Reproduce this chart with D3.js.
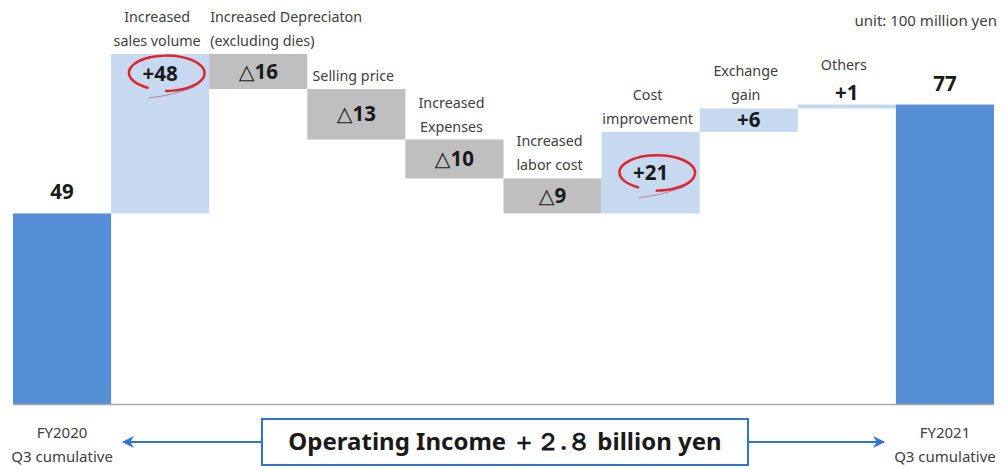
<!DOCTYPE html>
<html>
<head>
<meta charset="utf-8">
<script src="https://cdn.jsdelivr.net/npm/d3@7"></script>
<style>
  body { margin: 0; background: #fff; }
  svg { display: block; font-family: 'Noto Sans', 'DejaVu Sans', sans-serif; }
</style>
</head>
<body>
<div id="chart-area"></div>
<script>
// Data (unit: 100 million yen)
const categories = ['FY2020', 'Sales volume', 'Depreciation', 'Selling price', 'Expenses',
  'Labor cost', 'Cost improvement', 'Exchange gain', 'Others', 'FY2021'];
const categoryLines = [
  ['FY2020', 'Q3 cumulative'],
  ['Increased', 'sales volume'],
  ['Increased Depreciaton', '(excluding dies)'],
  ['Selling price'],
  ['Increased', 'Expenses'],
  ['Increased', 'labor cost'],
  ['Cost', 'improvement'],
  ['Exchange', 'gain'],
  ['Others'],
  ['FY2021', 'Q3 cumulative']
];
const changes = [49, 48, -16, -13, -10, -9, 21, 6, 1, 77];
const kinds = ['total', 'up', 'down', 'down', 'down', 'down', 'up', 'up', 'up', 'total'];
const valueLabels = ['49', '+48', '△16', '△13', '△10', '△9', '+21', '+6', '+1', '77'];
const circled = ['Sales volume', 'Cost improvement'];
const unitLabel = 'unit: 100 million yen';
const summaryLabel = 'Operating Income  ＋２.８ billion yen';

// SVG drawing area
let width = 1001, height = 469;
let baseY = 404;

let svg = d3.select('#chart-area')
  .append('svg')
  .attr('width', width)
  .attr('height', height);

// Scales (clamped: the tallest step is cut at the top like in the slide)
let x = d3.scaleBand().domain(categories).range([13, 994]).padding(0);
let y = d3.scaleLinear().domain([0, 90]).range([baseY, 54]).clamp(true);

// Running totals
let bars = [];
let running = 0;
changes.forEach((v, i) => {
  let start, end;
  if (kinds[i] === 'total') { start = 0; end = v; running = v; }
  else { start = running; end = running + v; running = end; }
  bars.push({
    key: categories[i], lines: categoryLines[i], kind: kinds[i], label: valueLabels[i],
    lo: Math.min(start, end), hi: Math.max(start, end)
  });
});

const colors = { total: '#558ED5', up: '#C6D9F1', down: '#BFBFBF' };

// Bars
svg.selectAll('.bar')
  .data(bars)
  .enter()
  .append('rect')
  .attr('class', 'bar')
  .attr('x', d => x(d.key))
  .attr('width', x.bandwidth())
  .attr('y', d => y(d.hi))
  .attr('height', d => y(d.lo) - y(d.hi))
  .attr('fill', d => colors[d.kind]);

// Baseline
svg.append('line')
  .attr('x1', x.range()[0]).attr('x2', x.range()[1])
  .attr('y1', baseY + 0.5).attr('y2', baseY + 0.5)
  .attr('stroke', '#A6A6A6').attr('stroke-width', 1.5);

// Value labels
svg.selectAll('.value')
  .data(bars)
  .enter()
  .append('text')
  .attr('class', 'value')
  .attr('x', d => x(d.key) + x.bandwidth() / 2)
  .attr('y', d => {
    let top = y(d.hi), bottom = y(d.lo), h = bottom - top;
    if (d.kind === 'total') return top - 14;
    if (h < 15) return top - 5;
    if (h > 120) return top + 27;
    return (top + bottom) / 2 + 7;
  })
  .attr('text-anchor', 'middle')
  .attr('font-size', 20.5)
  .attr('font-weight', 'bold')
  .attr('fill', '#1a1a1a')
  .text(d => d.label);

// Category labels above the steps
let steps = bars.filter(d => d.kind !== 'total');
steps.forEach(d => {
  let top = y(d.hi);
  let h = y(d.lo) - top;
  let lastBase = h < 15 ? top - 35 : top - 8;
  let g = svg.append('g').attr('class', 'cat-label');
  let n = d.lines.length;
  d.lines.forEach((line, j) => {
    g.append('text')
      .attr('y', lastBase - (n - 1 - j) * 24)
      .attr('font-size', 14.3)
      .attr('fill', '#404040')
      .text(line);
  });
  // centre on the step, or start at its left edge when too wide
  let maxW = d3.max(g.selectAll('text').nodes(), t => t.getComputedTextLength());
  if (maxW > x.bandwidth()) {
    g.selectAll('text').attr('x', x(d.key) + 1).attr('text-anchor', 'start');
  } else {
    g.selectAll('text').attr('x', x(d.key) + x.bandwidth() / 2 - 3).attr('text-anchor', 'middle');
  }
});

// Red hand-drawn circles
let ellipse = d3.line().curve(d3.curveBasis);
bars.filter(d => circled.includes(d.key)).forEach(d => {
  let cx = x(d.key) + x.bandwidth() / 2 + 6;
  let top = y(d.hi), bottom = y(d.lo);
  let cy = (bottom - top) > 120 ? top + 19 : (top + bottom) / 2;
  let rx = 37, ry = 17;
  let pts = d3.range(0, 331, 10).map(a => {
    let t = (a + 120) * Math.PI / 180;
    let grow = 1 + a / 330 * 0.06;
    return [cx + rx * grow * Math.cos(t), cy + ry * grow * Math.sin(t)];
  });
  svg.append('path')
    .attr('d', ellipse(pts))
    .attr('fill', 'none')
    .attr('stroke', '#E0242C')
    .attr('stroke-width', 2.5)
    .attr('stroke-linecap', 'round');
  // faint scribble under the circle
  svg.append('path')
    .attr('d', ellipse([[cx - 18, cy + ry + 8], [cx + 5, cy + ry + 5], [cx + 28, cy + ry - 3]]))
    .attr('fill', 'none')
    .attr('stroke', '#B04A6A')
    .attr('stroke-width', 1)
    .attr('opacity', 0.6);
});

// Unit
svg.append('text')
  .attr('x', 997).attr('y', 26)
  .attr('text-anchor', 'end')
  .attr('font-size', 15)
  .attr('fill', '#404040')
  .text(unitLabel);

// Period labels under the totals
bars.filter(d => d.kind === 'total').forEach(d => {
  d.lines.forEach((line, j) => {
    svg.append('text')
      .attr('x', x(d.key) + x.bandwidth() / 2)
      .attr('y', 438 + j * 24)
      .attr('text-anchor', 'middle')
      .attr('font-size', 15)
      .attr('fill', '#404040')
      .text(line);
  });
});

// Summary box with arrows
let arrowY = 442;
let defs = svg.append('defs');
defs.append('marker')
  .attr('id', 'head')
  .attr('viewBox', '0 0 10 10')
  .attr('refX', 9).attr('refY', 5)
  .attr('markerWidth', 6).attr('markerHeight', 6)
  .attr('orient', 'auto-start-reverse')
  .append('path')
  .attr('d', 'M0,0 L10,5 L0,10 L3,5 Z')
  .attr('fill', '#2E75D6');

let boxL = 262, boxR = 748;
svg.append('line')
  .attr('x1', boxL).attr('x2', x(categories[0]) + x.bandwidth() + 12)
  .attr('y1', arrowY).attr('y2', arrowY)
  .attr('stroke', '#2E75D6').attr('stroke-width', 2)
  .attr('marker-end', 'url(#head)');
svg.append('line')
  .attr('x1', boxR).attr('x2', x(categories[9]) - 12)
  .attr('y1', arrowY).attr('y2', arrowY)
  .attr('stroke', '#2E75D6').attr('stroke-width', 2)
  .attr('marker-end', 'url(#head)');

svg.append('rect')
  .attr('x', boxL).attr('y', 419)
  .attr('width', boxR - boxL).attr('height', 46)
  .attr('fill', '#fff')
  .attr('stroke', '#2E75D6').attr('stroke-width', 2);

svg.append('text')
  .attr('x', (boxL + boxR) / 2).attr('y', arrowY + 8)
  .attr('text-anchor', 'middle')
  .attr('font-size', 24)
  .attr('font-weight', 'bold')
  .attr('fill', '#1a1a1a')
  .text(summaryLabel);
</script>
</body>
</html>
